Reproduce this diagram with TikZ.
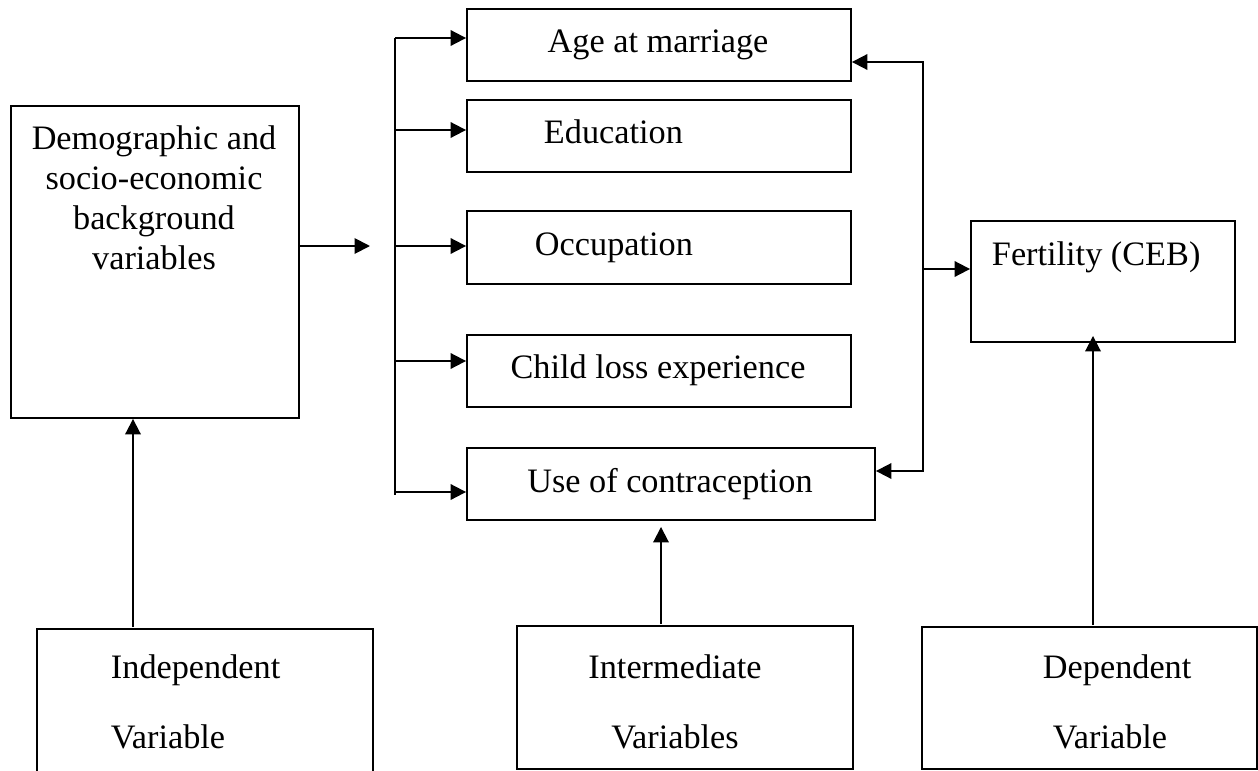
\documentclass[tikz,border=0pt]{standalone}
\usepackage{fontspec}
\setmainfont{Liberation Serif}
\usetikzlibrary{arrows.meta,calc}

\begin{document}
\begin{tikzpicture}[x=0.02cm, y=-0.02cm, line width=1.1pt,
    >={Triangle[length=0.31cm, width=0.31cm]}]
  \tikzstyle{box}=[draw, rectangle, inner sep=0pt]
  \tikzstyle{mid}=[box, minimum width=7.68cm, minimum height=1.44cm]
  \tikzstyle{kind}=[box, minimum width=6.72cm, minimum height=2.86cm]
  \tikzstyle{txt}=[inner sep=0pt, font=\fontsize{19.5}{22.8}\selectfont]

  \useasboundingbox (0, 0) rectangle (1258, 771);

  % boxes
  \path
    (155, 262)    node[box, minimum width=5.76cm, minimum height=6.24cm] (demo) {}
    (659, 45)     node[mid] (age) {}
    (659, 136)    node[mid] (edu) {}
    (659, 247.5)  node[mid, minimum height=1.46cm] (occ) {}
    (659, 371)    node[mid] (loss) {}
    (671, 484)    node[mid, minimum width=8.16cm] (contra) {}
    (1103, 281.5) node[box, minimum width=5.28cm, minimum height=2.42cm] (fert) {}
    (205, 702.5)  node[kind, minimum height=2.94cm] (indep) {}
    (685, 697.5)  node[kind] (inter) {}
    (1089.5, 698) node[kind, minimum width=6.7cm, minimum height=2.84cm] (dep) {};

  % texts
  \node[txt, anchor=north, align=center] (demo-t) at (154, 124.5)
    {Demographic and\\socio-economic\\background\\variables};
  \node[txt, anchor=base] (age-t) at (658, 52) {Age at marriage};
  \node[txt, anchor=base west] (edu-t) at (543, 143) {Education};
  \node[txt, anchor=base west] (occ-t) at (534, 255) {Occupation};
  \node[txt, anchor=base] (loss-t) at (658, 378) {Child loss experience};
  \node[txt, anchor=base] (contra-t) at (670, 492) {Use of contraception};
  \node[txt, anchor=base west] (fert-t) at (991, 265) {Fertility (CEB)};
  \node[txt, anchor=north west, align=left] (indep-t) at (110, 653.5)
    {Independent\\[17pt]Variable};
  \node[txt, anchor=north, align=center] (inter-t) at (675, 653.5)
    {Intermediate\\[17pt]Variables};
  \node[txt, anchor=north west, align=left] (dep-t) at (1042, 653.5)
    {Dependent\\[17pt]\hspace*{0.2cm}Variable};

  % connectors
  \coordinate (split) at (370, 246);
  \draw[->] (demo.east |- split) -- (split);

  \coordinate (bus top) at (395, 38);
  \coordinate (bus bot) at (395, 495);
  \draw (bus top) -- (bus bot);
  \foreach \b/\d in {age/-7, edu/-6, occ/-1.5, loss/-10, contra/8}
    \draw[->] ($(bus top |- \b.west)+(0,\d)$) -- ($(\b.west)+(0,\d)$);

  \coordinate (rbus top) at (923, 62);
  \coordinate (rbus bot) at (923, 471);
  \draw[<->] (age.east |- rbus top) -- (rbus top) -- (rbus bot)
    -- (contra.east |- rbus bot);
  \draw[->] ($(rbus top |- fert.west)+(0,-12.5)$) -- ($(fert.west)+(0,-12.5)$);

  \foreach \f/\t/\dx/\gap in {indep/demo/-72/0, inter/contra/-24/6, dep/fert/3.5/-7}
    \draw[->] ($(\f.north)+(\dx,-1)$) -- ($(\f.north |- \t.south)+(\dx,\gap)$);

\end{tikzpicture}
\end{document}
